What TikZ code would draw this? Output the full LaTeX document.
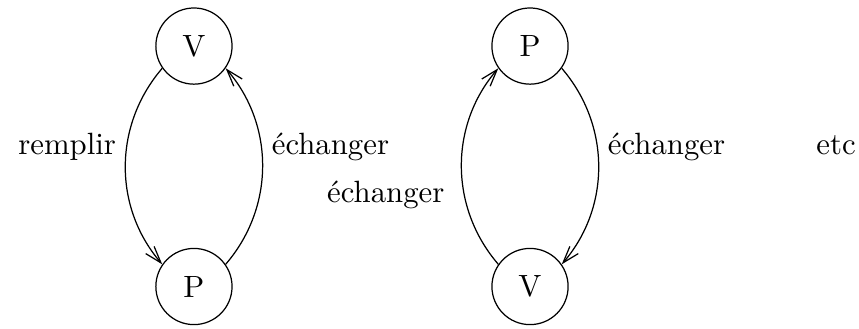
\documentclass[tikz,border=0pt]{standalone}
\usepackage{tikz}
\usetikzlibrary{arrows.meta}

\begin{document}
\begin{tikzpicture}[
    etat/.style={draw, thin, circle, minimum size=0.87cm, inner sep=0pt},
    trans/.style={thin, -{Straight Barb[length=5.5pt, width=3.6pt]}},
    lbl/.style={inner sep=3.3pt},
]
    \useasboundingbox (0, 0) rectangle (9.81, 3.746);

    % === premier cycle ===
    \node[etat] (v1) at (2.215, 3.22) {V};
    \node[etat] (p1) at (2.215, 0.474) {P};
    \draw[trans] (v1.215) .. controls +(-0.56, -0.65) and +(-0.56, 0.65) .. node[lbl, pos=0.405, left] {remplir} (p1.145);
    \draw[trans] (p1.35) .. controls +(0.56, 0.65) and +(0.56, -0.65) .. node[lbl, pos=0.595, right] {échanger} (v1.325);

    % === second cycle ===
    \node[etat] (p2) at (6.053, 3.22) {P};
    \node[etat] (v2) at (6.053, 0.474) {V};
    \draw[trans] (v2.145) .. controls +(-0.56, 0.65) and +(-0.56, -0.65) .. node[lbl, pos=0.36, left, xshift=-3pt] {échanger} (p2.215);
    \draw[trans] (p2.325) .. controls +(0.56, -0.65) and +(0.56, 0.65) .. node[lbl, pos=0.405, right] {échanger} (v2.35);

    \node (etc) at (9.548, 2.09) {etc};
\end{tikzpicture}
\end{document}
